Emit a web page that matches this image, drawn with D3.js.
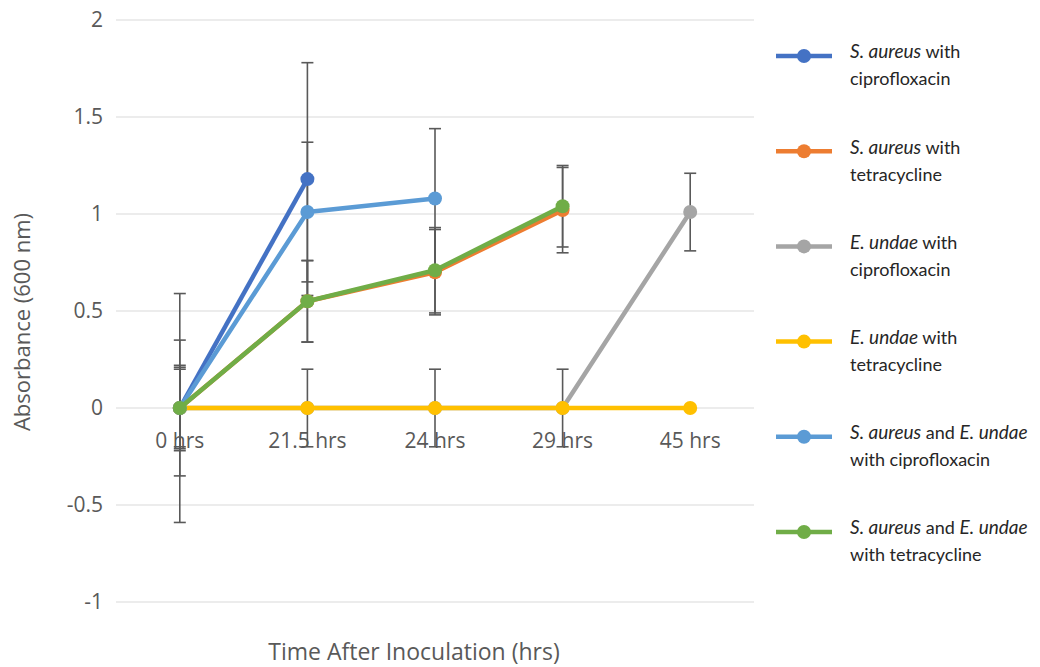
<!DOCTYPE html>
<html><head><meta charset="utf-8">
<script src="https://cdn.jsdelivr.net/npm/d3@7/dist/d3.min.js"></script>
<style>body{margin:0;background:#fff}svg{display:block}</style>
</head><body>
<svg id="c" width="1040" height="667"></svg>
<script>
const categories = ["0 hrs", "21.5 hrs", "24 hrs", "29 hrs", "45 hrs"];
const yTicks = [-1, -0.5, 0, 0.5, 1, 1.5, 2];
const yTickLabels = ["-1", "-0.5", "0", "0.5", "1", "1.5", "2"];
const seriesColors = ["#4472C4", "#ED7D31", "#A5A5A5", "#FFC000", "#5B9BD5", "#70AD47"];
const saCipro = [0, 1.18, null, null, null];
const saTetra = [0, 0.55, 0.70, 1.02, null];
const euCipro = [0, 0, 0, 0, 1.01];
const euTetra = [0, 0, 0, 0, 0];
const mixCipro = [0, 1.01, 1.08, null, null];
const mixTetra = [0, 0.55, 0.71, 1.04, null];
const saCiproErr = [0.59, 0.60, null, null, null];
const saTetraErr = [0.21, 0.21, 0.22, 0.22, null];
const euCiproErr = [0.20, 0.20, 0.20, 0.20, 0.20];
const euTetraErr = [null, null, null, null, null];
const mixCiproErr = [0.35, 0.36, 0.36, null, null];
const mixTetraErr = [0.22, 0.21, 0.22, 0.21, null];
const legendLabels = [
  [[["S. aureus", true], [" with", false]], [["ciprofloxacin", false]]],
  [[["S. aureus", true], [" with", false]], [["tetracycline", false]]],
  [[["E. undae", true], [" with", false]], [["ciprofloxacin", false]]],
  [[["E. undae", true], [" with", false]], [["tetracycline", false]]],
  [[["S. aureus", true], [" and ", false], ["E. undae", true]], [["with ciprofloxacin", false]]],
  [[["S. aureus", true], [" and ", false], ["E. undae", true]], [["with tetracycline", false]]]
];
const xTitle = "Time After Inoculation (hrs)";
const yTitle = "Absorbance (600 nm)";

const series = [
  {v: saCipro, e: saCiproErr},
  {v: saTetra, e: saTetraErr},
  {v: euCipro, e: euCiproErr},
  {v: euTetra, e: euTetraErr},
  {v: mixCipro, e: mixCiproErr},
  {v: mixTetra, e: mixTetraErr}
].map((s, i) => ({...s, color: seriesColors[i], label: legendLabels[i]}));

(function () {
const FONT = "'Open Sans', Lato, sans-serif";
const LFONT = "Lato, 'Open Sans', sans-serif";
const svg = d3.select("#c");
const pLeft = 116, pRight = 754, pTop = 20, pBottom = 602;
const x = d3.scaleBand().domain(categories).range([pLeft, pRight]);
const xc = c => x(c) + x.bandwidth() / 2;
const y = d3.scaleLinear().domain([-1, 2]).range([pBottom, pTop]);

// gridlines
svg.append("g").selectAll("line").data(yTicks).join("line")
  .attr("x1", pLeft).attr("x2", pRight)
  .attr("y1", d => y(d)).attr("y2", d => y(d))
  .attr("stroke", "#d9d9d9").attr("stroke-width", 1);

// y tick labels
svg.append("g").selectAll("text").data(yTicks).join("text")
  .attr("x", 103).attr("y", d => y(d)).attr("dy", "0.35em")
  .attr("text-anchor", "end").attr("font-family", FONT).attr("font-size", 21)
  .attr("fill", "#595959").text((d, i) => yTickLabels[i]);

// x tick labels
svg.append("g").selectAll("text").data(categories).join("text")
  .attr("x", d => xc(d)).attr("y", y(0) + 40)
  .attr("text-anchor", "middle").attr("font-family", FONT).attr("font-size", 21)
  .attr("fill", "#595959").text(d => d);

// axis titles
svg.append("text").attr("x", 414).attr("y", 660).attr("text-anchor", "middle")
  .attr("font-family", FONT).attr("font-size", 23).attr("fill", "#595959").text(xTitle);
svg.append("text").attr("transform", `translate(30,${322}) rotate(-90)`)
  .attr("text-anchor", "middle").attr("font-family", FONT).attr("font-size", 22)
  .attr("fill", "#595959").text(yTitle);

// error bars
const eg = svg.append("g");
series.forEach(s => {
  categories.forEach((c, i) => {
    const v = s.v[i], e = s.e[i];
    if (v == null || e == null) return;
    const cx = xc(c);
    eg.append("line").attr("x1", cx).attr("x2", cx).attr("y1", y(v - e)).attr("y2", y(v + e))
      .attr("stroke", "#595959").attr("stroke-width", 1.6);
    [v - e, v + e].forEach(t => eg.append("line").attr("x1", cx - 6).attr("x2", cx + 6)
      .attr("y1", y(t)).attr("y2", y(t)).attr("stroke", "#595959").attr("stroke-width", 1.6));
  });
});

// lines and markers
const line = d3.line().defined(d => d.v != null).x(d => xc(d.c)).y(d => y(d.v));
series.forEach(s => {
  const pts = categories.map((c, i) => ({c, v: s.v[i]}));
  svg.append("path").datum(pts).attr("d", line).attr("fill", "none")
    .attr("stroke", s.color).attr("stroke-width", 4.5).attr("stroke-linejoin", "round");
  svg.append("g").selectAll("circle").data(pts.filter(p => p.v != null)).join("circle")
    .attr("cx", d => xc(d.c)).attr("cy", d => y(d.v)).attr("r", 7).attr("fill", s.color);
});

// legend
const lg = svg.append("g");
const legendY = d3.scaleLinear().domain([0, 5]).range([56, 532]);
series.forEach((s, i) => {
  const ly = legendY(i);
  lg.append("line").attr("x1", 776).attr("x2", 832).attr("y1", ly).attr("y2", ly)
    .attr("stroke", s.color).attr("stroke-width", 4.5);
  lg.append("circle").attr("cx", 804).attr("cy", ly).attr("r", 7).attr("fill", s.color);
  s.label.forEach((lineSegs, j) => {
    const t = lg.append("text").attr("x", 850).attr("y", ly - 4 + j * 27).attr("dy", "0.35em")
      .attr("font-family", LFONT).attr("font-size", 18).attr("fill", "#262626");
    lineSegs.forEach(([txt, it]) => t.append("tspan").attr("font-style", it ? "italic" : "normal")
      .attr("font-size", it ? 19 : 18).attr("xml:space", "preserve").text(txt));
  });
});
})();
</script>
</body></html>
